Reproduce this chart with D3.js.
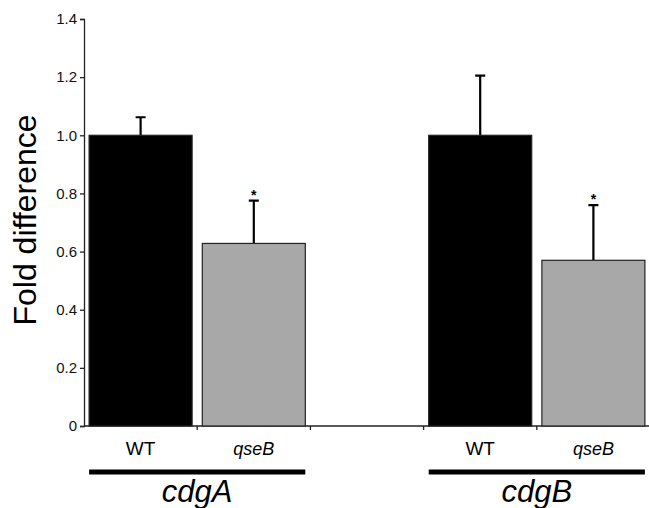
<!DOCTYPE html>
<html>
<head>
<meta charset="utf-8">
<script src="https://cdn.jsdelivr.net/npm/d3@7"></script>
<style>
  body { margin: 0; background: #fff; }
  text { font-family: "Liberation Sans", Arial, Helvetica, sans-serif; }
</style>
</head>
<body>
<script>
// values
const genes = ["cdgA", "cdgB"];
const strains = ["WT", "qseB"];
const means = [1.0, 0.628, 1.0, 0.57];   // cdgA WT, cdgA qseB, cdgB WT, cdgB qseB
const errs = [0.062, 0.147, 0.205, 0.19];
const starred = [false, true, false, true];
const yTicks = [0, 0.2, 0.4, 0.6, 0.8, 1.0, 1.2, 1.4];

const width = 649;
const height = 508;

const svg = d3.select("body").append("svg")
  .attr("width", width)
  .attr("height", height);

// five slots: two per gene plus an empty one between them
const slots = ["cdgA|WT", "cdgA|qseB", "gap", "cdgB|WT", "cdgB|qseB"];
const rows = [];
genes.forEach((g, gi) => {
  strains.forEach((s, si) => {
    const i = gi * 2 + si;
    rows.push({gene: g, strain: s, key: g + "|" + s, mean: means[i], err: errs[i], star: starred[i]});
  });
});

const x = d3.scaleBand()
  .domain(slots)
  .range([84, 650])
  .paddingInner(0.09)
  .paddingOuter(0.045);

const y = d3.scaleLinear()
  .domain([0, 1.4])
  .range([426, 19]);

// y axis
const yAxis = svg.append("g")
  .attr("transform", "translate(84,0)")
  .call(d3.axisLeft(y).tickValues(yTicks).tickSize(4).tickPadding(3)
    .tickFormat(d => d === 0 ? "0" : d3.format(".1f")(d)));
yAxis.select(".domain").attr("stroke", "#222").attr("stroke-width", 1.3);
yAxis.selectAll(".tick line").attr("stroke", "#222").attr("stroke-width", 1.3);
yAxis.selectAll(".tick text")
  .style("font-size", "15px")
  .attr("fill", "#111");

// x axis baseline with ticks at slot boundaries
const step = x.step();
svg.append("line")
  .attr("x1", 84).attr("x2", 650)
  .attr("y1", y(0)).attr("y2", y(0))
  .attr("stroke", "#222").attr("stroke-width", 1.3);
svg.selectAll(".xtick")
  .data(d3.range(1, slots.length))
  .join("line")
  .attr("class", "xtick")
  .attr("x1", i => 84 + i * step).attr("x2", i => 84 + i * step)
  .attr("y1", y(0)).attr("y2", y(0) + 4)
  .attr("stroke", "#222").attr("stroke-width", 1.3);

// error bars (drawn first so bars cover the lower part)
const ew = 10;
svg.selectAll(".err")
  .data(rows)
  .join("path")
  .attr("class", "err")
  .attr("d", d => {
    const cx = x(d.key) + x.bandwidth() / 2;
    return `M${cx},${y(d.mean)}V${y(d.mean + d.err)}M${cx - ew / 2},${y(d.mean + d.err)}H${cx + ew / 2}`;
  })
  .attr("fill", "none")
  .attr("stroke", "#000")
  .attr("stroke-width", 2.2);

// bars
svg.selectAll(".bar")
  .data(rows)
  .join("rect")
  .attr("class", "bar")
  .attr("x", d => x(d.key))
  .attr("y", d => y(d.mean))
  .attr("width", x.bandwidth())
  .attr("height", d => y(0) - y(d.mean))
  .attr("fill", d => d.strain === "WT" ? "#000" : "#a8a8a8")
  .attr("stroke", "#222")
  .attr("stroke-width", 1.2);

// significance stars
svg.selectAll(".star")
  .data(rows.filter(d => d.star))
  .join("text")
  .attr("class", "star")
  .attr("x", d => x(d.key) + x.bandwidth() / 2)
  .attr("y", d => y(d.mean + d.err) - 1)
  .attr("text-anchor", "middle")
  .attr("font-size", 14)
  .attr("font-weight", "bold")
  .text("*");

// strain labels
svg.selectAll(".strain")
  .data(rows)
  .join("text")
  .attr("class", "strain")
  .attr("x", d => x(d.key) + x.bandwidth() / 2)
  .attr("y", 455)
  .attr("text-anchor", "middle")
  .attr("font-size", d => d.strain === "WT" ? 19 : 18)
  .attr("font-style", d => d.strain === "WT" ? "normal" : "italic")
  .text(d => d.strain);

// gene underlines and labels
const geneSpan = g => {
  const a = x(g + "|" + strains[0]);
  const b = x(g + "|" + strains[1]) + x.bandwidth();
  return [a, b];
};
svg.selectAll(".gline")
  .data(genes)
  .join("line")
  .attr("class", "gline")
  .attr("x1", g => geneSpan(g)[0])
  .attr("x2", g => geneSpan(g)[1])
  .attr("y1", 472).attr("y2", 472)
  .attr("stroke", "#000")
  .attr("stroke-width", 5);
svg.selectAll(".gene")
  .data(genes)
  .join("text")
  .attr("class", "gene")
  .attr("x", g => (geneSpan(g)[0] + geneSpan(g)[1]) / 2)
  .attr("y", 502)
  .attr("text-anchor", "middle")
  .attr("font-size", 31)
  .attr("font-style", "italic")
  .text(g => g);

// y axis title
svg.append("text")
  .attr("transform", "translate(36,220) rotate(-90)")
  .attr("text-anchor", "middle")
  .attr("font-size", 32)
  .text("Fold difference");
</script>
</body>
</html>
